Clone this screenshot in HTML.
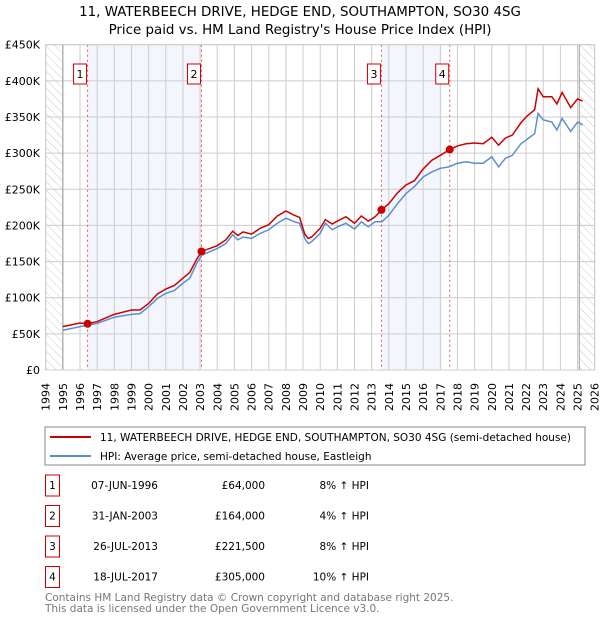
<!DOCTYPE html>
<html><head><meta charset="utf-8"><style>
body{margin:0;background:#fff;font-family:"Liberation Sans","DejaVu Sans",sans-serif;}
svg text{font-family:"DejaVu Sans","Liberation Sans",sans-serif;}
</style></head><body>
<svg id="c" width="600" height="620" xmlns="http://www.w3.org/2000/svg">
<defs><pattern id="hatch" width="6" height="6" patternUnits="userSpaceOnUse" patternTransform="rotate(-45)"><line x1="0" y1="0" x2="0" y2="6" stroke="#ccc" stroke-width="1"/></pattern></defs>
<text x="300" y="16" text-anchor="middle" font-size="13.4">11, WATERBEECH DRIVE, HEDGE END, SOUTHAMPTON, SO30 4SG</text>
<text x="300" y="34" text-anchor="middle" font-size="13.4">Price paid vs. HM Land Registry's House Price Index (HPI)</text>
<g id="plot"></g>
<rect x="45" y="427" width="540" height="38" fill="#fff" stroke="#888"/>
<line x1="50" y1="437" x2="91" y2="437" stroke="#cc0000" stroke-width="2"/>
<text x="100" y="441" font-size="10.5">11, WATERBEECH DRIVE, HEDGE END, SOUTHAMPTON, SO30 4SG (semi-detached house)</text>
<line x1="50" y1="456" x2="91" y2="456" stroke="#5b8fd1" stroke-width="2"/>
<text x="100" y="460" font-size="10.5">HPI: Average price, semi-detached house, Eastleigh</text>
<g id="table" font-size="10.5"></g>
<text x="45" y="601" font-size="10.5" fill="#777">Contains HM Land Registry data © Crown copyright and database right 2025.</text>
<text x="45" y="612" font-size="10.5" fill="#777">This data is licensed under the Open Government Licence v3.0.</text>
</svg>
<script>
const hpiYears=[1995,1996,1996.5,1997,1998,1999,1999.5,2000,2000.5,2001,2001.5,2002,2002.4,2002.8,2003.1,2004,2004.5,2004.9,2005.2,2005.5,2006,2006.5,2007,2007.5,2008,2008.5,2008.8,2009.1,2009.3,2009.5,2010,2010.3,2010.7,2011,2011.5,2012,2012.4,2012.8,2013.2,2013.6,2014,2014.5,2015,2015.5,2016,2016.5,2017,2017.5,2018,2018.5,2019,2019.5,2020,2020.4,2020.8,2021.2,2021.7,2022,2022.5,2022.7,2023,2023.5,2023.8,2024.1,2024.6,2025,2025.3];
const hpiValues=[55,60,62,64.5,73,77,78,87.6,99,106,110,120,127,147,159,168,175,187,180,184,182,189,194,203,210,205,203,182,175,177.5,189,203,194,198,203,195,205,198,205,205,214,230,244,254,267,274,279,281,286,288,286,286,295,281,293,297,313,318,327,355,346,343,332,348,330,343,339];
const priceYears=[1995,1996,1996.44,1997,1998,1999,1999.5,2000,2000.5,2001,2001.5,2002,2002.4,2002.8,2003.08,2004,2004.5,2004.9,2005.2,2005.5,2006,2006.5,2007,2007.5,2008,2008.5,2008.8,2009.1,2009.3,2009.5,2010,2010.3,2010.7,2011,2011.5,2012,2012.4,2012.8,2013.2,2013.57,2014,2014.5,2015,2015.5,2016,2016.5,2017,2017.55,2018,2018.5,2019,2019.5,2020,2020.4,2020.8,2021.2,2021.7,2022,2022.5,2022.7,2023,2023.5,2023.8,2024.1,2024.6,2025,2025.3];
const priceValues=[60,65,64,67,77,83,83,92,105,112,117,127,135,153,164,172,180,192,186,191,188,196,201,213,220,214,211,188,182,184,196,208,202,206,212,203,213,206,212,221.5,230,245,256,262,278,290,297,305,310,313,314,313,322,311,321,325,342,350,360,389,378,378,368,384,363,375,372];
const saleLabels=["1","2","3","4"];
const saleYears=[1996.44,2003.08,2013.57,2017.55];
const saleValues=[64,164,221.5,305];
const saleDates=["07-JUN-1996","31-JAN-2003","26-JUL-2013","18-JUL-2017"];
const salePrices=["£64,000","£164,000","£221,500","£305,000"];
const saleDiffs=["8% ↑ HPI","4% ↑ HPI","8% ↑ HPI","10% ↑ HPI"];
const yTicks=[0,50,100,150,200,250,300,350,400,450];
const yTickLabels=["£0","£50K","£100K","£150K","£200K","£250K","£300K","£350K","£400K","£450K"];
const xTicks=[1994,1995,1996,1997,1998,1999,2000,2001,2002,2003,2004,2005,2006,2007,2008,2009,2010,2011,2012,2013,2014,2015,2016,2017,2018,2019,2020,2021,2022,2023,2024,2025,2026];
const shadeRanges=[[1996.44,2003.08],[2013.57,2017.1]];

const L=45.7,R=594.7,T=44.7,B=370;
const x=y=>L+(y-1994)/(2026-1994)*(R-L);
const yv=v=>B-v/450*(B-T);
const NS="http://www.w3.org/2000/svg";
const plot=document.getElementById('plot');
function mk(tag,attrs,parent){const e=document.createElementNS(NS,tag);for(const k in attrs)e.setAttribute(k,attrs[k]);(parent||plot).appendChild(e);return e;}
let e;
e=mk('rect',{x:L,y:T,width:R-L,height:B-T,fill:'#fff'});


shadeRanges.forEach(r=>{e=mk('rect',{x:x(r[0]),y:T,width:x(r[1])-x(r[0]),height:B-T,fill:'#f3f6fd'});

});
e=mk('rect',{x:L,y:T,width:x(1995)-L,height:B-T,fill:'url(#hatch)'});


e=mk('rect',{x:x(2025.1),y:T,width:R-x(2025.1),height:B-T,fill:'url(#hatch)'});


xTicks.forEach(t=>{e=mk('line',{x1:x(t),x2:x(t),y1:T,y2:B,stroke:'#ccc','stroke-width':1});


e=mk('text',{x:0,y:0,'font-size':11,'text-anchor':'end',transform:`translate(${x(t)+4},${B+13}) rotate(-90)`});
e.textContent=t;

});
yTicks.forEach((t,i)=>{e=mk('line',{x1:L,x2:R,y1:yv(t),y2:yv(t),stroke:'#ccc','stroke-width':1});


e=mk('text',{x:40,y:yv(t)+4,'font-size':11,'text-anchor':'end'});
e.textContent=yTickLabels[i];

});
[1995,2025.1].forEach(t=>{e=mk('line',{x1:x(t),x2:x(t),y1:T,y2:B,stroke:'#999','stroke-width':1});

});
saleYears.forEach((s,i)=>{e=mk('line',{x1:x(s),x2:x(s),y1:T,y2:B,stroke:'#ee5555','stroke-width':1,'stroke-dasharray':'2,3'});


e=mk('rect',{x:x(s)-14,y:64,width:13,height:20,fill:'#fff',stroke:'#cc0000'});


e=mk('text',{x:x(s)-7.5,y:78,'font-size':11,'text-anchor':'middle'});
e.textContent=saleLabels[i];

});
e=mk('polyline',{points:hpiYears.map((t,i)=>x(t)+','+yv(hpiValues[i])).join(' '),fill:'none',stroke:'#5b8fd1','stroke-width':1.5});


e=mk('polyline',{points:priceYears.map((t,i)=>x(t)+','+yv(priceValues[i])).join(' '),fill:'none',stroke:'#cc0000','stroke-width':1.5});


saleYears.forEach((s,i)=>{e=mk('circle',{cx:x(s),cy:yv(saleValues[i]),r:4,fill:'#cc0000'});

});
e=mk('rect',{x:L,y:T,width:R-L,height:B-T,fill:'none',stroke:'#ccc'});


const tb=document.getElementById('table');
saleLabels.forEach((lb,i)=>{const cy=485+i*30.5;
e=mk('rect',{x:45.5,y:cy-10,width:14,height:21,fill:'#fff',stroke:'#cc0000'},tb);


e=mk('text',{x:52.5,y:cy+4,'text-anchor':'middle'},tb);e.textContent=lb;


e=mk('text',{x:158,y:cy+4,'text-anchor':'end'},tb);e.textContent=saleDates[i];


e=mk('text',{x:265,y:cy+4,'text-anchor':'end'},tb);e.textContent=salePrices[i];


e=mk('text',{x:369,y:cy+4,'text-anchor':'end'},tb);e.textContent=saleDiffs[i];

});
</script>
</body></html>
